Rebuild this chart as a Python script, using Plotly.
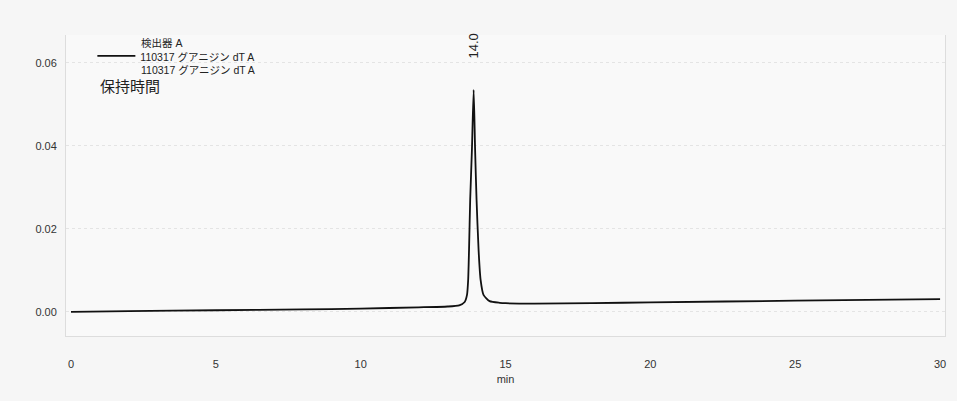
import plotly.graph_objects as go

# Retention time (min) and detector response
time_min = [0.0, 2.0, 5.0, 8.0, 10.0, 12.0, 13.0, 13.4, 13.59, 13.67, 13.71, 13.74, 13.78, 13.84, 13.90,
            13.95, 14.00, 14.07, 14.14, 14.24, 14.45, 14.8, 15.0, 16.0, 18.0, 20.0, 25.0, 30.0]
signal = [0.0000, 0.0002, 0.0004, 0.0006, 0.0008, 0.0011, 0.0013, 0.0016, 0.0024, 0.0041, 0.0077, 0.0149,
          0.0270, 0.0390, 0.0535, 0.0390, 0.0270, 0.0149, 0.0077, 0.0041, 0.0026, 0.0022, 0.0021, 0.0020,
          0.0021, 0.0023, 0.0027, 0.0031]

x_ticks = [0, 5, 10, 15, 20, 25, 30]
y_ticks = [0.00, 0.02, 0.04, 0.06]
y_tick_labels = ["0.00", "0.02", "0.04", "0.06"]

peak_time = 13.90
peak_height = 0.0535
peak_label = "14.0"

series_name = "110317 グアニジン dT A"
series_name_2 = "110317 グアニジン dT A"
detector_label = "検出器 A"
panel_label = "保持時間"

num_font = "Liberation Sans, Arial, sans-serif"
jp_font = "Noto Sans CJK JP, sans-serif"
mix_font = "Liberation Sans, Noto Sans CJK JP, sans-serif"

fig = go.Figure()
fig.add_trace(go.Scatter(
    x=time_min, y=signal, mode="lines", name=series_name,
    line=dict(color="#111111", width=1.8, shape="spline", smoothing=0.6),
))

fig.update_layout(
    width=957, height=401,
    margin=dict(l=66, r=12, t=35, b=65),
    paper_bgcolor="#f6f6f6",
    plot_bgcolor="#f9f9f9",
    showlegend=True,
    legend=dict(
        x=0.030, y=0.975, xanchor="left", yanchor="top",
        bgcolor="rgba(0,0,0,0)", itemwidth=38, valign="top",
        font=dict(family=mix_font, size=10.5, color="#222"),
        tracegroupgap=0,
    ),
    xaxis=dict(
        range=[-0.172, 30.17], tickvals=x_ticks, ticktext=[str(v) for v in x_ticks],
        showgrid=False, zeroline=False, showline=True, linecolor="#dddddd", mirror=False,
        ticks="", ticklabelstandoff=18,
        tickfont=dict(family=num_font, size=11, color="#333"),
        title=dict(text="min", font=dict(family=num_font, size=11, color="#333"), standoff=6),
    ),
    yaxis=dict(
        range=[-0.0058, 0.0667], tickvals=y_ticks, ticktext=y_tick_labels,
        showgrid=True, gridcolor="#e4e4e4", griddash="dot", gridwidth=1,
        zeroline=False, showline=True, linecolor="#dddddd", mirror=True,
        ticks="", ticklabelstandoff=6,
        tickfont=dict(family=num_font, size=11, color="#333"),
    ),
)

fig.add_annotation(x=peak_time, y=peak_height, xref="x", yref="y", text=peak_label,
                   textangle=-90, showarrow=False, yshift=44,
                   font=dict(family=num_font, size=13, color="#222"))
fig.add_annotation(x=0.0835, y=0.972, xref="paper", yref="paper", text=detector_label,
                   showarrow=False, xanchor="left", yanchor="middle",
                   font=dict(family=mix_font, size=10.5, color="#222"))
fig.add_annotation(x=0.0835, y=0.884, xref="paper", yref="paper", text=series_name_2,
                   showarrow=False, xanchor="left", yanchor="middle",
                   font=dict(family=mix_font, size=10.5, color="#222"))
fig.add_annotation(x=0.036, y=0.832, xref="paper", yref="paper", text=panel_label,
                   showarrow=False, xanchor="left", yanchor="middle",
                   font=dict(family=jp_font, size=15, color="#222"))

fig.write_html("out.html")
